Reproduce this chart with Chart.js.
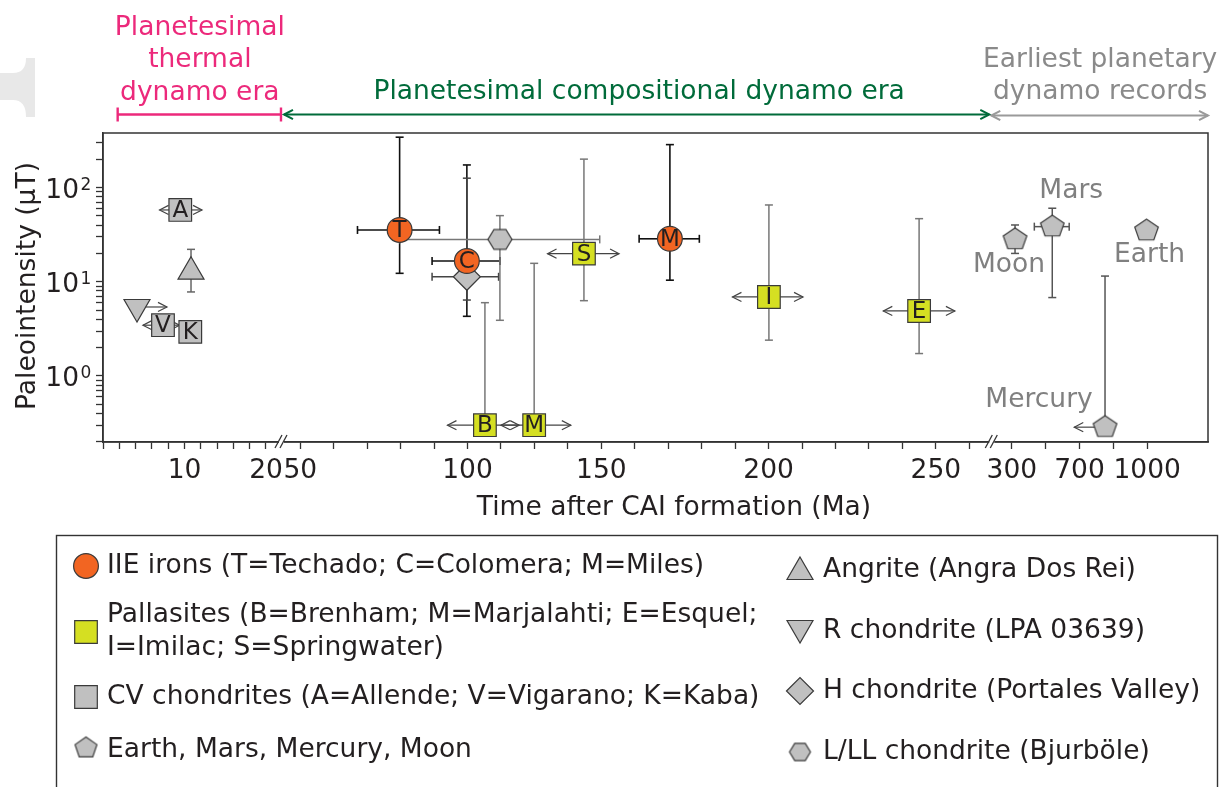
<!DOCTYPE html>
<html>
<head>
<meta charset="utf-8">
<script src="https://cdn.jsdelivr.net/npm/chart.js@4.4.0/dist/chart.umd.min.js"></script>
<style>
  html, body { margin: 0; padding: 0; background: #fff; }
  canvas { display: block; }
</style>
</head>
<body>
<canvas id="chart" width="1226" height="787" style="width:1226px;height:787px"></canvas>
<script>
// ---- data: age after CAI formation (Ma), paleointensity (uT) ----
var iieTags = ['T', 'C', 'M'];
var iieAge = [79.7, 99.8, 170.5];
var iieField = [35.5, 16.6, 28.6];
var iieFieldLo = [12.3, 4.3, 10.4];
var iieFieldHi = [343, 174, 286];
var iieAgeLo = [67.1, 89.4, 161.3];
var iieAgeHi = [91.6, 112.1, 179.3];

var palTags = ['B', 'M', 'S', 'I', 'E'];
var palAge = [106.5, 124.9, 143.5, 200.1, 245];
var palField = [0.30, 0.30, 19.9, 6.9, 4.9];
var palFieldLo = [null, null, 6.3, 2.4, 1.73];
var palFieldHi = [6.0, 15.7, 200.6, 65.4, 46.8];
var palAgeArrowLo = [94.0, 112.5, 129.9, 189.2, 234.3];
var palAgeArrowHi = [119.3, 138.6, 155.3, 210.3, 255.7];

var cvTags = ['A', 'V', 'K'];
var cvAge = [9.48, 7.36, 10.71];
var cvField = [57.9, 3.46, 2.94];
var cvAgeArrowLo = [6.94, 4.9, null];
var cvAgeArrowHi = [12.15, 9.4, null];

var angAge = [10.8];
var angField = [12.8];
var angFieldLo = [7.8];
var angFieldHi = [22.1];

var rAge = [4.17];
var rField = [5.4];
var rAgeArrowHi = [7.85];

var hAge = [99.8];
var hField = [11.3];
var hFieldLo = [6.4];
var hFieldHi = [125.9];
var hAgeLo = [89.4];
var hAgeHi = [111.6];

var llAge = [112.1];
var llField = [28.2];
var llFieldLo = [3.9];
var llFieldHi = [50.4];
var llAgeLo = [79.8];
var llAgeHi = [149.4];

var planetNames = ['Moon', 'Mars', 'Mercury', 'Earth'];
var planetAge = [319, 539, 813, 997];
var planetField = [28.2, 38.5, 0.286, 34.9];
var planetFieldLo = [20.0, 6.8, null, null];
var planetFieldHi = [40.1, 60.4, 11.5, null];
var planetAgeLo = [null, 433, null, null];
var planetAgeHi = [null, 639, null, null];
var planetAgeArrowLo = [null, null, 669, null];
var planetLabelOffsets = [[-6, 26], [19, -36], [-66, -27], [3, 24]];

// ---- axis definitions ----
var xTickLabelMa = [10, 20, 50, 100, 150, 200, 250, 300, 700, 1000];
var yTickValues = [0.2, 0.3, 0.4, 0.5, 0.6, 0.7, 0.8, 0.9, 1, 2, 3, 4, 5, 6, 7, 8, 9,
                   10, 20, 30, 40, 50, 60, 70, 80, 90, 100, 200, 300];
var yMajorTicks = [1, 10, 100];
var yMajorExponents = ['0', '1', '2'];

// broken time axis: three pieces, each mapped onto evenly spaced tick steps
var xAxisSegments = [
  { anchorsMa: [0, 20], anchorSteps: [0, 10], start: 0, step: 0.4873, ticks: 10 },
  { anchorsMa: [50, 100, 150, 200, 250], anchorSteps: [0, 5, 9, 14, 19], start: 5.898, step: 1, ticks: 20 },
  { anchorsMa: [300, 700, 1000], anchorSteps: [0, 2, 4], start: 27.17, step: 1.012, ticks: 4 }
];
var xAxisBreaks = [5.351, 26.586];
var xAxisMax = 33.035;

function toAxis(ma) {
  if (ma === null || ma === undefined) return null;
  var s = xAxisSegments[ma < 35 ? 0 : (ma < 275 ? 1 : 2)];
  var m = s.anchorsMa, k = s.anchorSteps, i = 0;
  while (i < m.length - 2 && ma > m[i + 1]) i++;
  var step = k[i] + (ma - m[i]) * (k[i + 1] - k[i]) / (m[i + 1] - m[i]);
  return s.start + step * s.step;
}

var xTickValues = [];
xAxisSegments.forEach(function (s) {
  for (var t = 0; t <= s.ticks; t++) xTickValues.push(s.start + t * s.step);
});

var FONT = "'DejaVu Sans', sans-serif";
var TEXT = '#231f20';
var ORANGE = '#f26522';
var YELLOW = '#d5df22';
var GRAY = '#c0c0c0';
var EDGE = '#3a3a3a';

function polyCanvas(n, R, rot, sy) {
  var size = Math.ceil(2 * R + 4);
  var c = document.createElement('canvas');
  c.width = size; c.height = size;
  var g = c.getContext('2d');
  g.beginPath();
  for (var i = 0; i < n; i++) {
    var a = rot + i * 2 * Math.PI / n;
    var px = size / 2 + R * Math.cos(a), py = size / 2 + R * Math.sin(a) * sy;
    if (i === 0) g.moveTo(px, py); else g.lineTo(px, py);
  }
  g.closePath();
  g.fillStyle = GRAY; g.fill();
  g.lineWidth = 1.2; g.strokeStyle = EDGE; g.stroke();
  return c;
}
var pentagon = polyCanvas(5, 12.4, -Math.PI / 2, 0.92);
var hexagon = polyCanvas(6, 12, 0, 0.95);
var pentagonSmall = polyCanvas(5, 11.5, -Math.PI / 2, 0.95);
var hexagonSmall = polyCanvas(6, 10.5, 0, 0.95);

function pick(arr, i) { return arr ? (arr[i] === undefined ? null : arr[i]) : null; }

function buildPoints(age, field, o) {
  return age.map(function (a, i) {
    return {
      x: toAxis(a), y: field[i],
      yLo: pick(o.yLo, i), yHi: pick(o.yHi, i),
      xLo: toAxis(pick(o.xLo, i)), xHi: toAxis(pick(o.xHi, i)),
      aLo: toAxis(pick(o.aLo, i)), aHi: toAxis(pick(o.aHi, i)),
      tag: pick(o.tags, i)
    };
  });
}

function markerSet(label, points, style, extra) {
  return {
    label: label, data: points, clip: false,
    pointStyle: style.pointStyle, pointRadius: style.radius, pointRotation: style.rotation || 0,
    pointBackgroundColor: style.fill, pointBorderColor: EDGE, pointBorderWidth: 1.2,
    pointHoverRadius: style.radius, errColor: extra.errColor, errWidth: extra.errWidth || 1.5
  };
}

var styles = {
  iie: { pointStyle: 'circle', radius: 12.4, fill: ORANGE },
  pal: { pointStyle: 'rect', radius: 16, fill: YELLOW },
  cv: { pointStyle: 'rect', radius: 16, fill: GRAY },
  ang: { pointStyle: 'triangle', radius: 15, fill: GRAY },
  r: { pointStyle: 'triangle', radius: 15, fill: GRAY, rotation: 180 },
  h: { pointStyle: 'rectRot', radius: 13.5, fill: GRAY },
  ll: { pointStyle: hexagon, radius: 12, fill: GRAY },
  planet: { pointStyle: pentagon, radius: 12, fill: GRAY }
};

var datasets = [
  markerSet('IIE irons', buildPoints(iieAge, iieField, { yLo: iieFieldLo, yHi: iieFieldHi, xLo: iieAgeLo, xHi: iieAgeHi, tags: iieTags }), styles.iie, { errColor: '#111', errWidth: 1.6 }),
  markerSet('Pallasites', buildPoints(palAge, palField, { yLo: palFieldLo, yHi: palFieldHi, aLo: palAgeArrowLo, aHi: palAgeArrowHi, tags: palTags }), styles.pal, { errColor: '#777' }),
  markerSet('CV chondrites', buildPoints(cvAge, cvField, { aLo: cvAgeArrowLo, aHi: cvAgeArrowHi, tags: cvTags }), styles.cv, { errColor: '#555' }),
  markerSet('Angrite', buildPoints(angAge, angField, { yLo: angFieldLo, yHi: angFieldHi }), styles.ang, { errColor: '#666' }),
  markerSet('R chondrite', buildPoints(rAge, rField, { aHi: rAgeArrowHi }), styles.r, { errColor: '#555' }),
  markerSet('H chondrite', buildPoints(hAge, hField, { yLo: hFieldLo, yHi: hFieldHi, xLo: hAgeLo, xHi: hAgeHi }), styles.h, { errColor: '#444' }),
  markerSet('L/LL chondrite', buildPoints(llAge, llField, { yLo: llFieldLo, yHi: llFieldHi, xLo: llAgeLo, xHi: llAgeHi }), styles.ll, { errColor: '#777' }),
  markerSet('Planets', buildPoints(planetAge, planetField, { yLo: planetFieldLo, yHi: planetFieldHi, xLo: planetAgeLo, xHi: planetAgeHi, aLo: planetAgeArrowLo, tags: null }), styles.planet, { errColor: '#555' })
];

function line(ctx, x0, y0, x1, y1) {
  ctx.beginPath(); ctx.moveTo(x0, y0); ctx.lineTo(x1, y1); ctx.stroke();
}
function arrowHead(ctx, tipX, y, dir) {
  ctx.beginPath();
  ctx.moveTo(tipX - dir * 9, y - 4.6);
  ctx.lineTo(tipX, y);
  ctx.lineTo(tipX - dir * 9, y + 4.6);
  ctx.stroke();
}

var overlay = {
  id: 'overlay',
  beforeDraw: function (chart) {
    var ctx = chart.ctx;
    ctx.save();
    ctx.fillStyle = '#fff';
    ctx.fillRect(0, 0, chart.width, chart.height);
    // faint bracket piece on the left margin
    ctx.fillStyle = '#e8e8e8';
    ctx.beginPath();
    ctx.moveTo(35, 58); ctx.lineTo(35, 117); ctx.lineTo(26, 117);
    ctx.quadraticCurveTo(26, 100, 13, 100); ctx.lineTo(0, 100); ctx.lineTo(0, 73);
    ctx.lineTo(13, 73); ctx.quadraticCurveTo(26, 73, 26, 58); ctx.closePath(); ctx.fill();
    ctx.restore();
  },
  beforeDatasetsDraw: function (chart) {
    var ctx = chart.ctx, xs = chart.scales.x, ys = chart.scales.y;
    ctx.save();
    chart.data.datasets.forEach(function (ds) {
      ds.data.forEach(function (p) {
        var px = xs.getPixelForValue(p.x), py = ys.getPixelForValue(p.y);
        ctx.strokeStyle = ds.errColor; ctx.lineWidth = ds.errWidth;
        if (p.yHi !== null) { var t = ys.getPixelForValue(p.yHi); line(ctx, px, py, px, t); line(ctx, px - 4, t, px + 4, t); }
        if (p.yLo !== null) { var b = ys.getPixelForValue(p.yLo); line(ctx, px, py, px, b); line(ctx, px - 4, b, px + 4, b); }
        if (p.xLo !== null) { var l = xs.getPixelForValue(p.xLo); line(ctx, px, py, l, py); line(ctx, l, py - 4, l, py + 4); }
        if (p.xHi !== null) { var r = xs.getPixelForValue(p.xHi); line(ctx, px, py, r, py); line(ctx, r, py - 4, r, py + 4); }
        ctx.strokeStyle = '#444'; ctx.lineWidth = 1.2;
        if (p.aLo !== null) { var al = xs.getPixelForValue(p.aLo); line(ctx, px, py, al, py); arrowHead(ctx, al, py, -1); }
        if (p.aHi !== null) { var ah = xs.getPixelForValue(p.aHi); line(ctx, px, py, ah, py); arrowHead(ctx, ah, py, 1); }
      });
    });
    ctx.restore();
  },
  afterDatasetsDraw: function (chart) {
    var ctx = chart.ctx;
    ctx.save();
    ctx.textAlign = 'center'; ctx.textBaseline = 'middle';
    chart.data.datasets.forEach(function (ds, di) {
      var meta = chart.getDatasetMeta(di);
      ds.data.forEach(function (p, i) {
        if (!p.tag) return;
        var el = meta.data[i];
        ctx.fillStyle = TEXT; ctx.font = '23px ' + FONT;
        ctx.fillText(p.tag, el.x, el.y + 1);
      });
    });
    // planet names
    var pm = chart.getDatasetMeta(7);
    ctx.fillStyle = '#808080'; ctx.font = '26.5px ' + FONT;
    planetNames.forEach(function (n, i) {
      var el = pm.data[i];
      ctx.fillText(n, el.x + planetLabelOffsets[i][0], el.y + planetLabelOffsets[i][1]);
    });
    ctx.restore();
  },
  afterDraw: function (chart) {
    var ctx = chart.ctx, a = chart.chartArea, xs = chart.scales.x, ys = chart.scales.y;
    ctx.save();
    // frame
    ctx.strokeStyle = '#333'; ctx.lineWidth = 1.5;
    ctx.strokeRect(a.left, a.top, a.right - a.left, a.bottom - a.top);
    // axis breaks
    ctx.lineWidth = 1.3;
    xAxisBreaks.forEach(function (b) {
      var bx = xs.getPixelForValue(b);
      ctx.fillStyle = '#fff';
      ctx.fillRect(bx - 3, a.bottom - 2, 5, 4);
      line(ctx, bx - 7, a.bottom + 6, bx + 0, a.bottom - 7);
      line(ctx, bx - 2, a.bottom + 6, bx + 5, a.bottom - 7);
    });
    // y tick labels: 10 with raised exponent
    ctx.fillStyle = TEXT; ctx.textBaseline = 'alphabetic';
    yMajorTicks.forEach(function (v, i) {
      var ty = ys.getPixelForValue(v);
      ctx.font = '26.5px ' + FONT; ctx.textAlign = 'right';
      ctx.fillText('10', 79, ty + 10.5);
      ctx.font = '17px ' + FONT; ctx.textAlign = 'left';
      ctx.fillText(yMajorExponents[i], 80.5, ty + 2.5);
    });
    // axis titles
    ctx.font = '26.5px ' + FONT;
    ctx.textAlign = 'center';
    ctx.fillText('Time after CAI formation (Ma)', 674, 515);
    ctx.save();
    ctx.translate(35, 286); ctx.rotate(-Math.PI / 2);
    ctx.fillText('Paleointensity (\u03bcT)', 0, 0);
    ctx.restore();

    // era annotations above the plot
    var b1 = xs.getPixelForValue(xAxisBreaks[0]), b2 = xs.getPixelForValue(xAxisBreaks[1]);
    var p0 = xs.getPixelForValue(toAxis(1.8));
    ctx.strokeStyle = '#ec297b'; ctx.lineWidth = 2.4;
    line(ctx, p0, 114.5, b1 - 1, 114.5);
    line(ctx, p0, 107.5, p0, 121.5); line(ctx, b1 - 1, 107.5, b1 - 1, 121.5);
    ctx.fillStyle = '#ec297b';
    var pc = (p0 + b1) / 2;
    ctx.fillText('Planetesimal', pc, 34.5);
    ctx.fillText('thermal', pc, 67);
    ctx.fillText('dynamo era', pc, 99.5);

    ctx.strokeStyle = '#006b3a'; ctx.lineWidth = 2;
    line(ctx, b1 + 2, 114.5, b2 - 3, 114.5);
    arrowHead(ctx, b1 + 2, 114.5, -1); arrowHead(ctx, b2 - 3, 114.5, 1);
    ctx.fillStyle = '#006b3a';
    ctx.fillText('Planetesimal compositional dynamo era', (b1 + b2) / 2 + 2, 99);

    ctx.strokeStyle = '#9a9a9a'; ctx.lineWidth = 2;
    line(ctx, b2 - 1, 115.5, a.right, 115.5);
    arrowHead(ctx, b2 - 1, 115.5, -1); arrowHead(ctx, a.right, 115.5, 1);
    ctx.fillStyle = '#8a8a8a';
    ctx.fillText('Earliest planetary', (b2 + a.right) / 2, 67);
    ctx.fillText('dynamo records', (b2 + a.right) / 2, 99);

    // legend
    ctx.strokeStyle = '#333'; ctx.lineWidth = 1.4;
    ctx.strokeRect(56.5, 535.5, 1161, 300);
    ctx.textAlign = 'left'; ctx.textBaseline = 'middle'; ctx.fillStyle = TEXT;
    var entries = [
      { x: 86, y: 566, s: styles.iie, lines: [['IIE irons (T=Techado; C=Colomera; M=Miles)', 566]] },
      { x: 86, y: 632, s: styles.pal, lines: [['Pallasites (B=Brenham; M=Marjalahti; E=Esquel;', 615], ['I=Imilac; S=Springwater)', 648]] },
      { x: 86, y: 697, s: styles.cv, lines: [['CV chondrites (A=Allende; V=Vigarano; K=Kaba)', 697]] },
      { x: 86, y: 748, s: { pointStyle: pentagonSmall, fill: GRAY, radius: 12 }, lines: [['Earth, Mars, Mercury, Moon', 750]] },
      { x: 800, y: 572, s: styles.ang, lines: [['Angrite (Angra Dos Rei)', 570]] },
      { x: 800, y: 628, s: styles.r, lines: [['R chondrite (LPA 03639)', 631]] },
      { x: 800, y: 691, s: styles.h, lines: [['H chondrite (Portales Valley)', 691]] },
      { x: 800, y: 752, s: { pointStyle: hexagonSmall, fill: GRAY, radius: 12 }, lines: [['L/LL chondrite (Bjurb\u00f6le)', 752]] }
    ];
    entries.forEach(function (e) {
      ctx.fillStyle = e.s.fill; ctx.strokeStyle = EDGE; ctx.lineWidth = 1.2;
      Chart.helpers.drawPoint(ctx, { pointStyle: e.s.pointStyle, rotation: e.s.rotation || 0, radius: e.s.radius, borderWidth: 1.2 }, e.x, e.y);
      ctx.fillStyle = TEXT;
      var tx = e.x + (e.x < 400 ? 21 : 23);
      e.lines.forEach(function (l) { ctx.fillText(l[0], tx, l[1]); });
    });
    ctx.restore();
  }
};

Chart.defaults.font.family = FONT;
Chart.defaults.color = TEXT;

new Chart(document.getElementById('chart').getContext('2d'), {
  type: 'scatter',
  data: { datasets: datasets },
  options: {
    responsive: false,
    animation: false,
    events: [],
    layout: { padding: { left: 0, right: 18, top: 133, bottom: 0 } },
    plugins: { legend: { display: false }, tooltip: { enabled: false } },
    scales: {
      x: {
        type: 'linear', min: 0, max: xAxisMax, bounds: 'data',
        afterFit: function (s) { s.height = 345; },
        afterBuildTicks: function (s) { s.ticks = xTickValues.map(function (v) { return { value: v }; }); },
        grid: { drawOnChartArea: false, drawTicks: true, tickLength: 7, tickWidth: 1.3, tickColor: '#333' },
        border: { display: true, color: '#333', width: 1.5 },
        ticks: {
          autoSkip: false, maxRotation: 0, minRotation: 0, padding: 6, color: TEXT,
          font: { family: FONT, size: 26.5 },
          callback: function (value) {
            for (var i = 0; i < xTickLabelMa.length; i++) {
              if (Math.abs(toAxis(xTickLabelMa[i]) - value) < 0.02) return String(xTickLabelMa[i]);
            }
            return '';
          }
        }
      },
      y: {
        type: 'logarithmic', min: 0.199, max: 380, bounds: 'data',
        afterFit: function (s) { s.width = 103; },
        afterBuildTicks: function (s) { s.ticks = yTickValues.map(function (v) { return { value: v, major: yMajorTicks.indexOf(v) >= 0 }; }); },
        grid: { drawOnChartArea: false, drawTicks: true, tickLength: 7, tickWidth: 1.3, tickColor: '#333' },
        border: { display: true, color: '#333', width: 1.5 },
        ticks: {
          autoSkip: false, padding: 5, color: TEXT,
          font: { family: FONT, size: 26.5 },
          callback: function () { return ''; }
        }
      }
    }
  },
  plugins: [overlay]
});
</script>
</body>
</html>
